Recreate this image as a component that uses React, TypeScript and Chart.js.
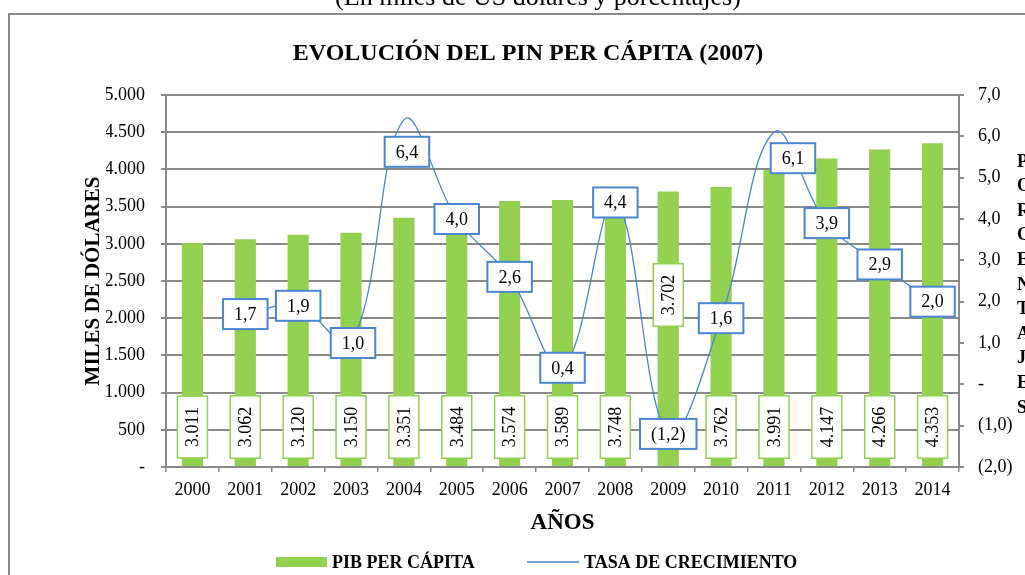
import React, { useEffect, useRef } from "react";
import { Chart, registerables } from "chart.js";

Chart.register(...registerables);

// ---------- data ----------
const years = ["2000", "2001", "2002", "2003", "2004", "2005", "2006", "2007", "2008", "2009", "2010", "2011", "2012", "2013", "2014"];
const pibPerCapita = [3011, 3062, 3120, 3150, 3351, 3484, 3574, 3589, 3748, 3702, 3762, 3991, 4147, 4266, 4353];
const tasaCrecimiento: (number | null)[] = [null, 1.7, 1.9, 1.0, 6.4, 4.0, 2.6, 0.4, 4.4, -1.2, 1.6, 6.1, 3.9, 2.9, 2.0];
const leftAxis = { min: 0, max: 5000, step: 500 };
const rightAxis = { min: -2, max: 7, step: 1 };

const subtitleText = "(En miles de US dólares y porcentajes)";
const titleText = "EVOLUCIÓN DEL PIN PER CÁPITA (2007)";
const yTitleText = "MILES DE DÓLARES";
const y1TitleText = "PORCENTAJES";
const xTitleText = "AÑOS";
const barLabel = "PIB PER CÁPITA";
const lineLabel = "TASA DE CRECIMIENTO";

// ---------- label placement (style) ----------
const barLabelLift = [40, 40, 40, 40, 40, 40, 40, 40, 40, 172, 40, 40, 40, 40, 40];
const lineLabelShift: [number, number][] = [
  [0, 0], [0, 0], [0, 0], [2, 0], [3, 32], [0, 0], [0, 0], [0, 0],
  [0, 0], [0, 0], [0, 0], [19, 26], [0, 0], [0, 0], [0, 0],
];

const FONT = "'Liberation Serif', 'Times New Roman', Times, serif";
const GRAY = "#8a8a8a";
const GREEN = "#92D050";
const BLUE = "#4a86d4";

function fmtThousands(v: number): string {
  if (v === 0) return "-";
  return String(v).replace(/\B(?=(\d{3})+(?!\d))/g, ".");
}
function fmtPct(v: number): string {
  if (Math.abs(v) < 1e-9) return "-";
  const s = Math.abs(v).toFixed(1).replace(".", ",");
  return v < 0 ? `(${s})` : s;
}

const decorPlugin = {
  id: "decor",
  beforeDraw(chart: any) {
    const ctx: CanvasRenderingContext2D = chart.ctx;
    ctx.save();
    ctx.fillStyle = "#ffffff";
    ctx.fillRect(0, 0, chart.width, chart.height);
    ctx.strokeStyle = GRAY;
    ctx.lineWidth = 2;
    ctx.strokeRect(9, 14, chart.width + 40, chart.height + 40);
    ctx.restore();
  },
  afterDatasetsDraw(chart: any) {
    const ctx: CanvasRenderingContext2D = chart.ctx;
    const xs = chart.scales.x;
    const ys = chart.scales.y;
    const y1s = chart.scales.y1;
    ctx.save();
    // bar labels
    ctx.font = `18px ${FONT}`;
    pibPerCapita.forEach((v, i) => {
      const x = xs.getPixelForValue(i);
      const base = ys.getPixelForValue(0);
      const cy = base - barLabelLift[i];
      const txt = fmtThousands(v);
      const tw = ctx.measureText(txt).width;
      const h = tw + 22;
      const w = 30;
      ctx.fillStyle = "#ffffff";
      ctx.fillRect(x - w / 2, cy - h / 2, w, h);
      ctx.strokeStyle = GREEN;
      ctx.lineWidth = 1.5;
      ctx.strokeRect(x - w / 2, cy - h / 2, w, h);
      ctx.save();
      ctx.translate(x, cy);
      ctx.rotate(-Math.PI / 2);
      ctx.fillStyle = "#000";
      ctx.textAlign = "center";
      ctx.textBaseline = "middle";
      ctx.fillText(txt, 0, 1);
      ctx.restore();
    });
    // line labels
    tasaCrecimiento.forEach((v, i) => {
      if (v === null) return;
      const x = xs.getPixelForValue(i) + lineLabelShift[i][0];
      const y = y1s.getPixelForValue(v) + lineLabelShift[i][1];
      const txt = fmtPct(v);
      const tw = ctx.measureText(txt).width;
      const w = tw + 22;
      const h = 30;
      ctx.fillStyle = "#ffffff";
      ctx.fillRect(x - w / 2, y - h / 2, w, h);
      ctx.strokeStyle = BLUE;
      ctx.lineWidth = 2;
      ctx.strokeRect(x - w / 2, y - h / 2, w, h);
      ctx.fillStyle = "#000";
      ctx.textAlign = "center";
      ctx.textBaseline = "middle";
      ctx.fillText(txt, x, y + 1);
    });
    ctx.restore();
  },
  afterDraw(chart: any) {
    const ctx: CanvasRenderingContext2D = chart.ctx;
    const area = chart.chartArea;
    ctx.save();
    ctx.fillStyle = "#000";
    ctx.textBaseline = "alphabetic";
    // subtitle (partly cut at top)
    ctx.font = `26px ${FONT}`;
    ctx.textAlign = "center";
    ctx.fillText(subtitleText, 538, 5);
    // title
    ctx.font = `bold 24px ${FONT}`;
    ctx.fillText(titleText, 528, 60);
    // x title
    ctx.font = `bold 23px ${FONT}`;
    ctx.fillText(xTitleText, (area.left + area.right) / 2, 529);
    // y title
    ctx.save();
    ctx.translate(99, 281);
    ctx.rotate(-Math.PI / 2);
    ctx.font = `bold 21px ${FONT}`;
    ctx.textAlign = "center";
    ctx.fillText(yTitleText, 0, 0);
    ctx.restore();
    // right title stacked letters
    ctx.font = `bold 18px ${FONT}`;
    ctx.textAlign = "left";
    ctx.textBaseline = "middle";
    y1TitleText.split("").forEach((ch, k) => {
      ctx.fillText(ch, 1017, 162 + k * 24.6);
    });
    // legend
    ctx.textBaseline = "alphabetic";
    ctx.fillStyle = GREEN;
    ctx.fillRect(276, 557, 51, 10);
    ctx.fillStyle = "#000";
    ctx.font = `bold 18px ${FONT}`;
    ctx.textAlign = "left";
    ctx.fillText(barLabel, 332, 568);
    ctx.strokeStyle = BLUE;
    ctx.lineWidth = 1.5;
    ctx.beginPath();
    ctx.moveTo(527, 562);
    ctx.lineTo(579, 562);
    ctx.stroke();
    ctx.fillText(lineLabel, 584, 568);
    ctx.restore();
  },
};

export default function App() {
  const ref = useRef<HTMLCanvasElement>(null);
  useEffect(() => {
    if (!ref.current) return;
    const tickFont = { family: FONT, size: 18 };
    const chart = new Chart(ref.current, {
      type: "bar",
      data: {
        labels: years,
        datasets: [
          {
            type: "line",
            label: lineLabel,
            data: tasaCrecimiento,
            yAxisID: "y1",
            borderColor: BLUE,
            borderWidth: 1.3,
            pointRadius: 0,
            tension: 0.38,
            fill: false,
            order: 0,
          } as any,
          {
            type: "bar",
            label: barLabel,
            data: pibPerCapita,
            yAxisID: "y",
            backgroundColor: GREEN,
            borderWidth: 0,
            barPercentage: 0.4,
            categoryPercentage: 1,
            order: 1,
          },
        ],
      },
      options: {
        animation: false,
        responsive: true,
        maintainAspectRatio: false,
        layout: { padding: { left: 106, right: 0, top: 95, bottom: 78 } },
        plugins: {
          legend: { display: false },
          title: { display: false },
          tooltip: { enabled: false },
        },
        scales: {
          x: {
            type: "category",
            offset: true,
            grid: {
              offset: true,
              drawOnChartArea: false,
              drawTicks: true,
              tickLength: 5,
              color: GRAY,
              lineWidth: 1.5,
            },
            border: { display: true, color: GRAY, width: 2 },
            ticks: { color: "#000", font: tickFont, padding: 7, maxRotation: 0, autoSkip: false },
            afterFit: (s: any) => {
              s.height = 30;
            },
          },
          y: {
            type: "linear",
            position: "left",
            min: leftAxis.min,
            max: leftAxis.max,
            ticks: {
              stepSize: leftAxis.step,
              color: "#000",
              font: tickFont,
              padding: 16,
              callback: (v: any) => fmtThousands(Number(v)),
            },
            grid: { color: GRAY, lineWidth: 2, tickLength: 5, drawTicks: true },
            border: { display: true, color: GRAY, width: 2 },
            afterFit: (s: any) => {
              s.width = 60;
            },
          },
          y1: {
            type: "linear",
            position: "right",
            min: rightAxis.min,
            max: rightAxis.max,
            ticks: {
              stepSize: rightAxis.step,
              color: "#000",
              font: tickFont,
              padding: 14,
              callback: (v: any) => fmtPct(Number(v)),
            },
            grid: { drawOnChartArea: false, color: GRAY, lineWidth: 2, tickLength: 5, drawTicks: true },
            border: { display: true, color: GRAY, width: 2 },
            afterFit: (s: any) => {
              s.width = 66;
            },
          },
        },
      },
      plugins: [decorPlugin],
    });
    return () => chart.destroy();
  }, []);
  return (
    <div style={{ position: "fixed", left: 0, top: 0, width: 1025, height: 575, background: "#fff" }}>
      <canvas ref={ref} />
    </div>
  );
}
